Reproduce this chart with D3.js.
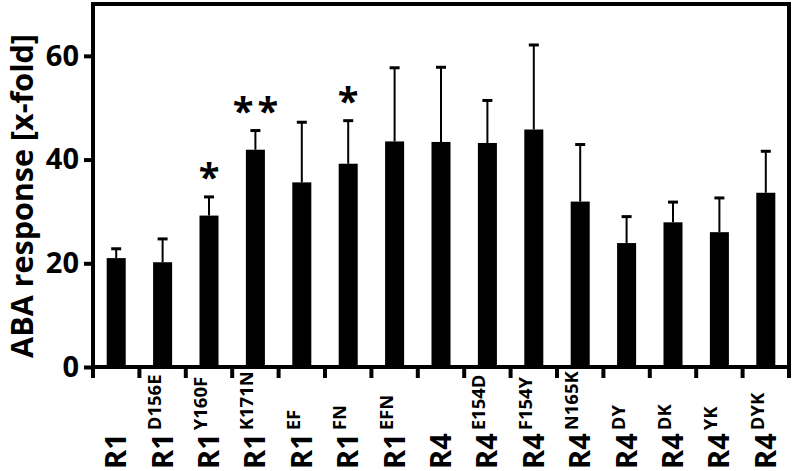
<!DOCTYPE html>
<html lang="en">
<head>
  <meta charset="UTF-8">
  <title>ABA response</title>
  <script src="https://d3js.org/d3.v7.min.js" charset="utf-8"></script>
  <style>
    body { margin: 0; background: #fff; }
    text { font-family: "Open Sans", sans-serif; font-weight: bold; fill: #000; }
  </style>
</head>
<body>
</body>
<script>
  // data
  let bases = ['R1', 'R1', 'R1', 'R1', 'R1', 'R1', 'R1', 'R4', 'R4', 'R4', 'R4', 'R4', 'R4', 'R4', 'R4']
  let variants = ['', 'D156E', 'Y160F', 'K171N', 'EF', 'FN', 'EFN', '', 'E154D', 'F154Y', 'N165K', 'DY', 'DK', 'YK', 'DYK']
  let means = [21.0, 20.2, 29.2, 41.9, 35.6, 39.2, 43.5, 43.4, 43.2, 45.8, 31.9, 23.9, 27.9, 26.0, 33.6]
  let errors = [1.8, 4.5, 3.6, 3.7, 11.6, 8.3, 14.2, 14.4, 8.2, 16.3, 11.0, 5.1, 3.9, 6.6, 8.0]
  let stars = ['', '', '*', '**', '', '*', '', '', '', '', '', '', '', '', '']
  let yTicks = [0, 20, 40, 60]

  let keys = variants.map((v, i) => i)

  var svg = d3.select('body').append('svg').attr('width', 796).attr('height', 471)

  var x = d3.scaleBand().domain(keys).range([93, 789]).paddingInner(0.59).paddingOuter(0.295)
  var y = d3.scaleLinear().domain([0, 70]).range([367, 4])

  // bars
  svg.selectAll('rect.bar').data(keys).enter().append('rect')
    .attr('class', 'bar')
    .attr('x', i => x(i))
    .attr('width', x.bandwidth())
    .attr('y', i => y(means[i]))
    .attr('height', i => y(0) - y(means[i]))
    .attr('fill', '#000')

  // upper error bars
  var cx = i => x(i) + x.bandwidth() / 2
  svg.selectAll('line.err').data(keys).enter().append('line')
    .attr('x1', cx).attr('x2', cx)
    .attr('y1', i => y(means[i])).attr('y2', i => y(means[i] + errors[i]))
    .attr('stroke', '#000').attr('stroke-width', 2)
  svg.selectAll('line.cap').data(keys).enter().append('line')
    .attr('x1', i => cx(i) - 5).attr('x2', i => cx(i) + 5)
    .attr('y1', i => y(means[i] + errors[i])).attr('y2', i => y(means[i] + errors[i]))
    .attr('stroke', '#000').attr('stroke-width', 3)

  // significance marks
  svg.selectAll('text.star').data(keys.filter(i => stars[i])).enter().append('text')
    .attr('x', i => cx(i) + 2)
    .attr('y', i => y(means[i] + errors[i]) - 6)
    .attr('text-anchor', 'middle')
    .attr('font-size', 38)
    .attr('letter-spacing', 4)
    .text(i => stars[i])

  // frame
  svg.append('rect').attr('x', 93).attr('y', 4).attr('width', 696).attr('height', 363)
    .attr('fill', 'none').attr('stroke', '#000').attr('stroke-width', 4)

  // y axis
  var yAxis = svg.append('g').attr('transform', 'translate(93,0)')
    .call(d3.axisLeft(y).tickValues(yTicks).tickSize(9).tickPadding(5))
  yAxis.select('.domain').remove()
  yAxis.selectAll('line').attr('stroke', '#000').attr('stroke-width', 4)
  yAxis.selectAll('text').attr('font-size', 29).attr('font-family', '"Open Sans", sans-serif').attr('font-weight', 'bold')

  // x ticks between groups
  let xEdges = keys.map(i => x(i) - x.step() * x.paddingInner() / 2).concat([789])
  svg.selectAll('line.xt').data(xEdges).enter().append('line')
    .attr('x1', d => d).attr('x2', d => d)
    .attr('y1', 367).attr('y2', 378)
    .attr('stroke', '#000').attr('stroke-width', 4)

  // x labels
  var lab = svg.selectAll('text.xl').data(keys).enter().append('text')
    .attr('transform', i => 'translate(' + (cx(i) + 10) + ',469) rotate(-90)')
  lab.append('tspan').attr('font-size', 29).text(i => bases[i])
  lab.append('tspan').attr('font-size', 18.5).attr('dx', 3).attr('dy', -12).text(i => variants[i])

  // y title
  svg.append('text')
    .attr('transform', 'translate(33,196) rotate(-90)')
    .attr('text-anchor', 'middle')
    .attr('font-size', 30.5)
    .text('ABA response [x-fold]')
</script>
</html>
